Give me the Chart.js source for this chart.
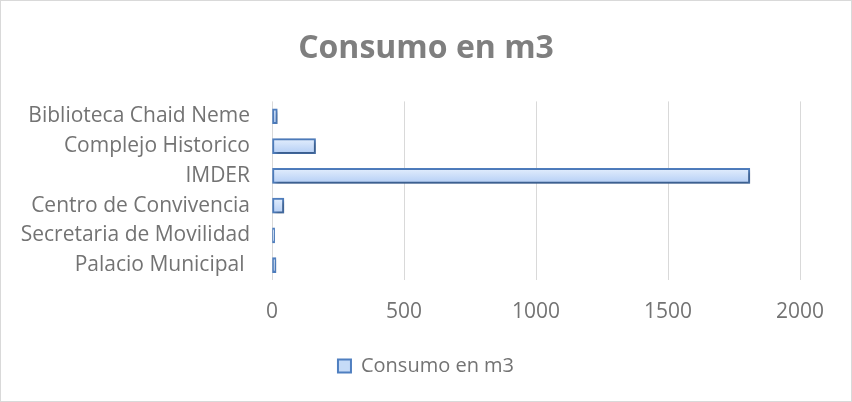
<!DOCTYPE html>
<html>
<head>
<meta charset="utf-8">
<script src="https://cdn.jsdelivr.net/npm/chart.js@4.4.1/dist/chart.umd.min.js"></script>
<style>
  html, body { margin: 0; padding: 0; background: #fff; }
  #wrap { width: 852px; height: 402px; position: relative; }
</style>
</head>
<body>
<div id="wrap"><canvas id="chart"></canvas></div>
<script>
const CATEGORIES = [
  'Biblioteca Chaid Neme',
  'Complejo Historico',
  'IMDER',
  'Centro de Convivencia',
  'Secretaria de Movilidad',
  'Palacio Municipal ',
];
const CONSUMO = [20, 165, 1810, 45, 10, 15];
const SERIES_LABEL = 'Consumo en m3';
const X_TICKS = [0, 500, 1000, 1500, 2000];

const FONT = '"Open Sans", Lato, sans-serif';
const BAR_THICK = 15;

// gradient fill per bar, from the category scale
function barFill(context) {
  const chart = context.chart;
  const yScale = chart.scales.y;
  const idx = context.dataIndex;
  if (!yScale || typeof idx !== 'number') return '#c6dbf7';
  const yc = yScale.getPixelForValue(idx);
  if (!Number.isFinite(yc)) return '#c6dbf7';
  const g = chart.ctx.createLinearGradient(0, yc - BAR_THICK / 2, 0, yc + BAR_THICK / 2);
  g.addColorStop(0, '#e3eefd');
  g.addColorStop(1, '#b4cef5');
  return g;
}

const shadowPlugin = {
  id: 'barShadow',
  beforeDatasetDraw(chart) {
    const ctx = chart.ctx;
    ctx.save();
    ctx.shadowColor = 'rgba(0,0,0,0.35)';
    ctx.shadowBlur = 4;
    ctx.shadowOffsetX = 2;
    ctx.shadowOffsetY = 2;
  },
  afterDatasetDraw(chart) {
    chart.ctx.restore();
  },
};

const framePlugin = {
  id: 'frame',
  afterDraw(chart) {
    const ctx = chart.ctx;
    ctx.save();
    ctx.strokeStyle = '#d9d9d9';
    ctx.lineWidth = 1;
    ctx.strokeRect(0.5, 0.5, chart.width - 1, chart.height - 1);
    ctx.restore();
  },
};

new Chart(document.getElementById('chart'), {
  type: 'bar',
  data: {
    labels: CATEGORIES,
    datasets: [{
      label: SERIES_LABEL,
      data: CONSUMO,
      backgroundColor: barFill,
      borderColor: '#4f7fc0',
      borderWidth: 2,
      borderSkipped: false,
      barThickness: BAR_THICK,
    }],
  },
  options: {
    indexAxis: 'y',
    responsive: true,
    maintainAspectRatio: false,
    animation: false,
    layout: { padding: { top: 30, left: 0, right: 0, bottom: 16 } },
    plugins: {
      title: {
        display: true,
        text: SERIES_LABEL,
        color: '#7f7f7f',
        font: { family: FONT, size: 32, weight: 'bold', lineHeight: 1.2 },
        padding: { top: 0, bottom: 33 },
      },
      legend: {
        display: true,
        position: 'bottom',
        labels: {
          color: '#737373',
          font: { family: FONT, size: 20 },
          boxWidth: 13,
          boxHeight: 13,
          padding: 10,
          generateLabels(chart) {
            return [{
              text: SERIES_LABEL,
              fillStyle: '#c6dbf7',
              strokeStyle: '#4f7fc0',
              lineWidth: 2,
              fontColor: '#737373',
              datasetIndex: 0,
              hidden: false,
            }];
          },
        },
      },
      tooltip: { enabled: false },
    },
    scales: {
      x: {
        min: 0,
        max: 2000,
        afterBuildTicks(scale) {
          scale.ticks = X_TICKS.map(v => ({ value: v }));
        },
        // keep the plot clear of the right edge, title/legend stay full width
        afterFit(scale) {
          scale.height = 66;
          scale.paddingRight = 52;
        },
        ticks: {
          color: '#737373',
          font: { family: FONT, size: 21 },
          padding: 19,
          callback: v => String(v),
        },
        grid: { color: '#d9d9d9', drawTicks: false, lineWidth: 1 },
        border: { display: false },
      },
      y: {
        afterFit(scale) { scale.width = 272; },
        ticks: {
          color: '#737373',
          font: { family: FONT, size: 21 },
          padding: 22,
        },
        grid: { display: false, drawTicks: false },
        border: { display: false },
      },
    },
  },
  plugins: [shadowPlugin, framePlugin],
});
</script>
</body>
</html>
